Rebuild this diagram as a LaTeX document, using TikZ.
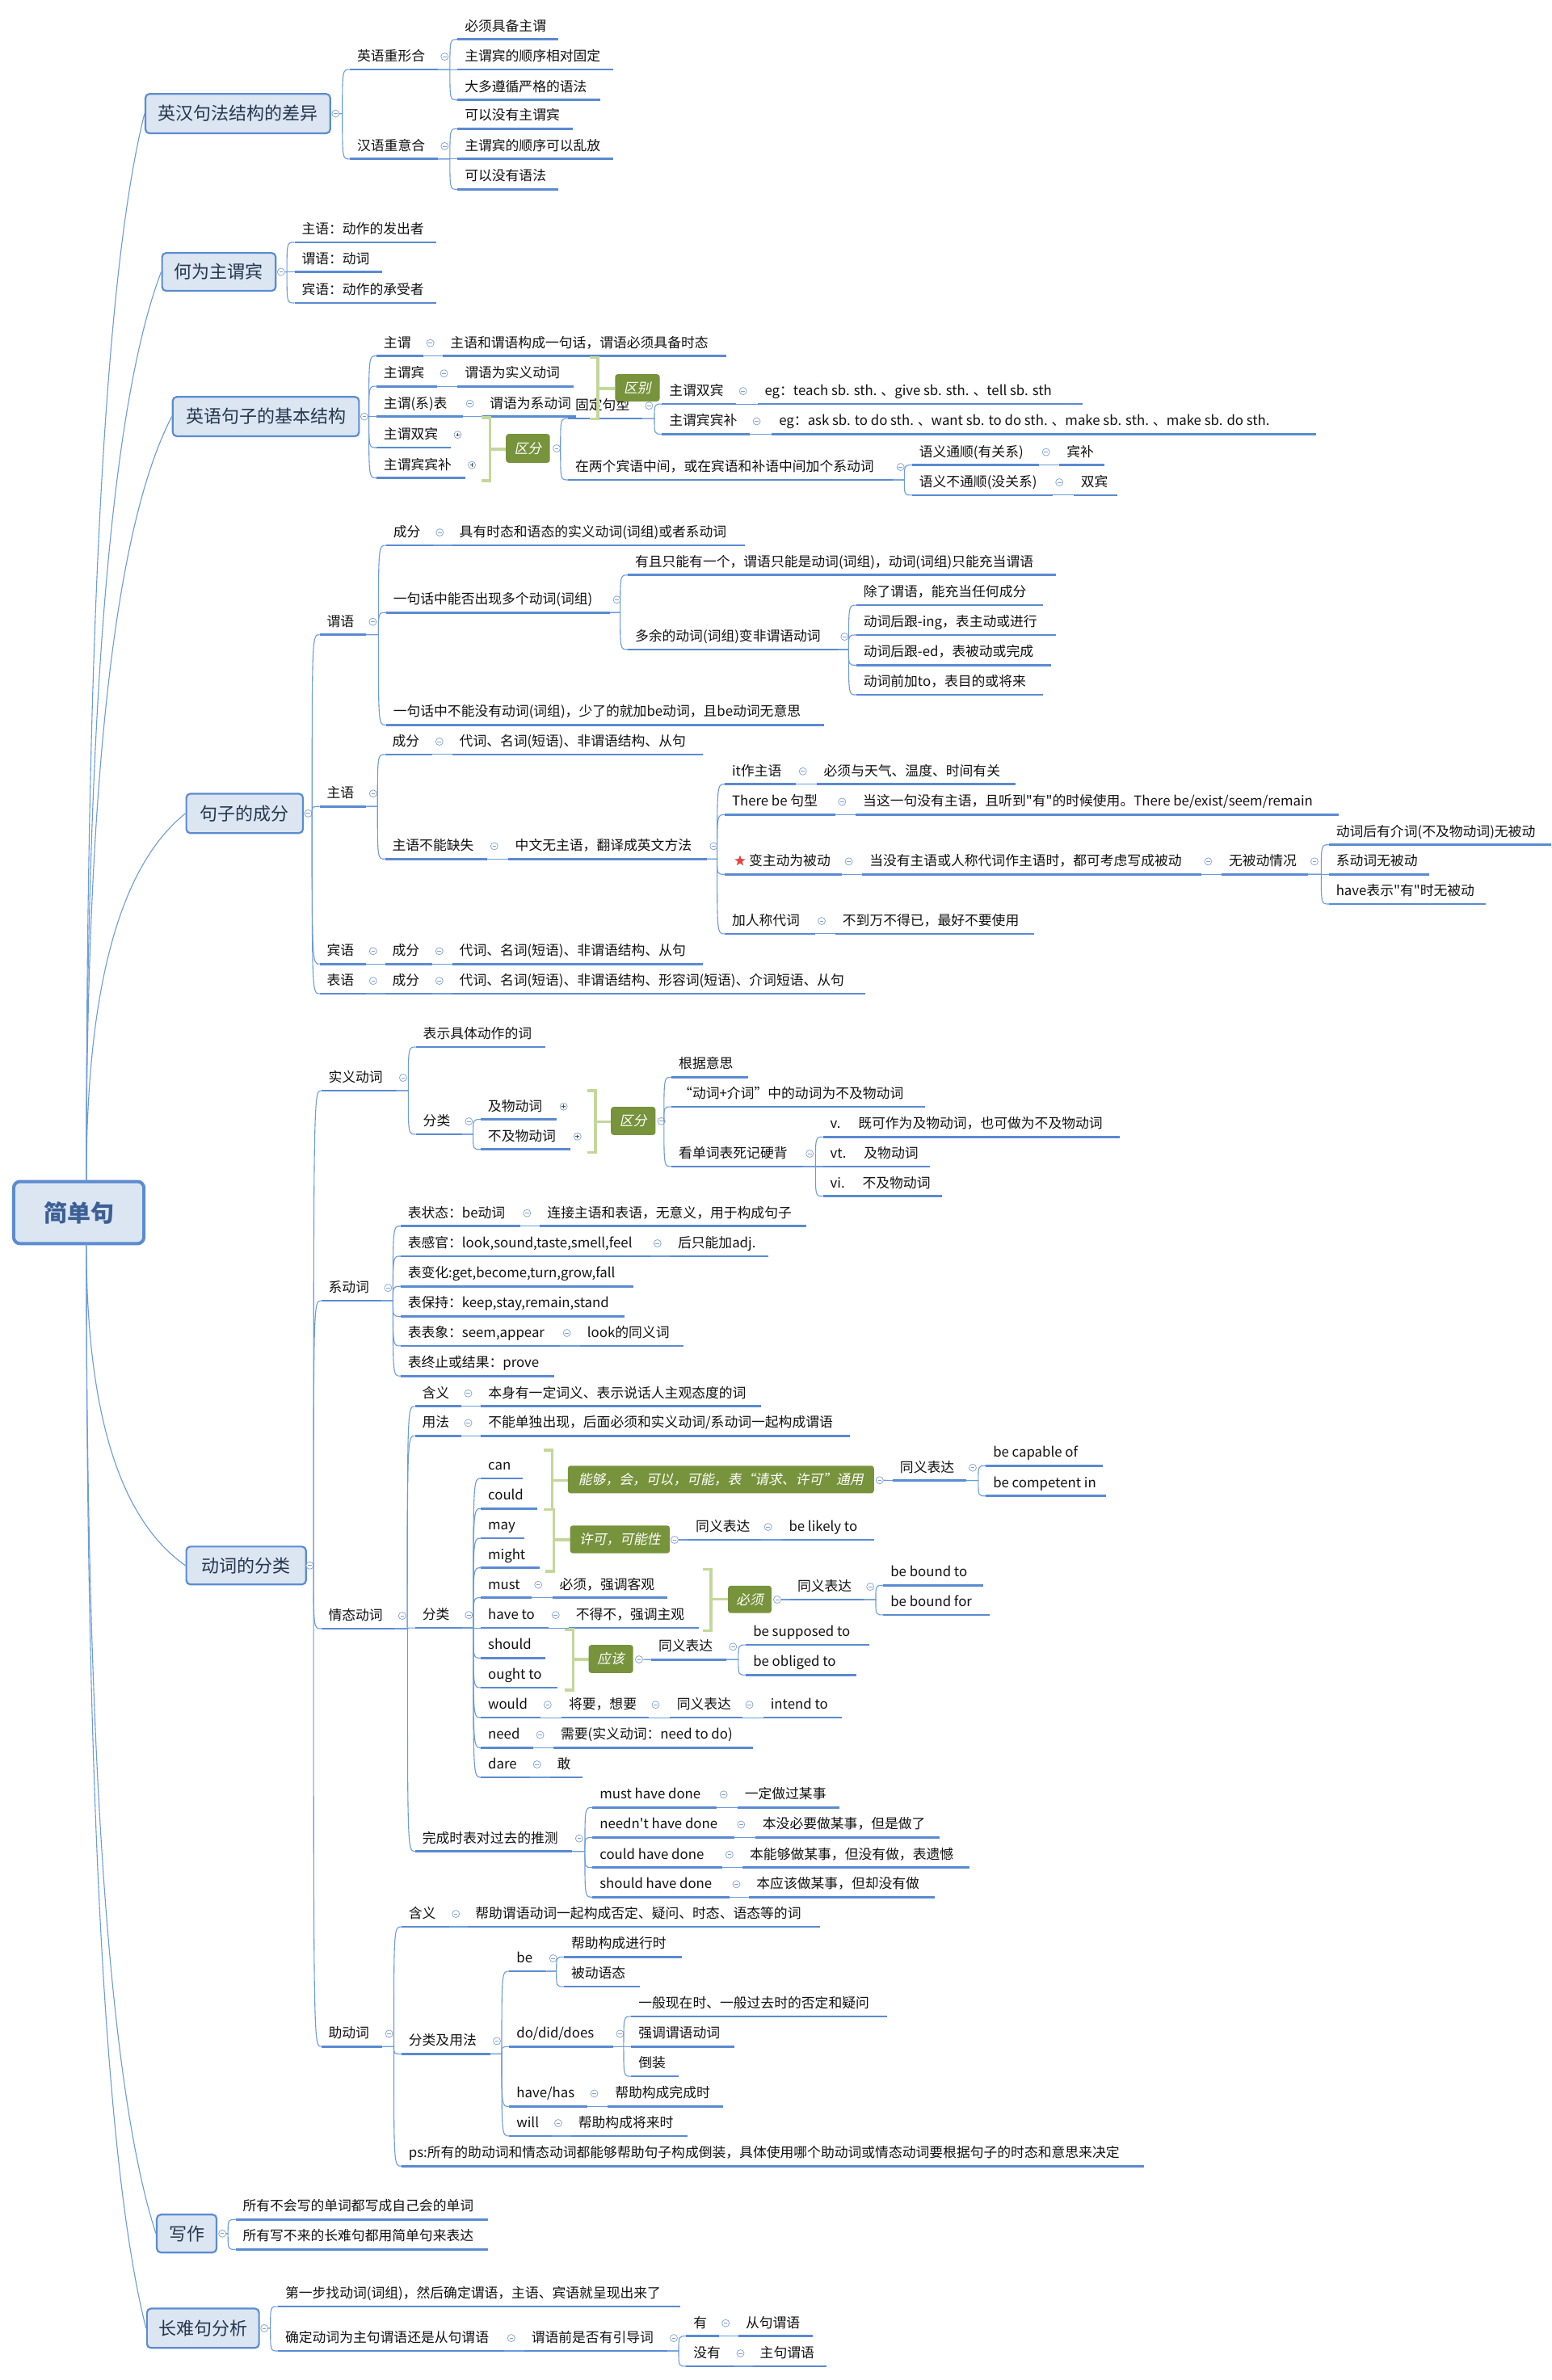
\documentclass[tikz,border=0pt]{standalone}
\usepackage{fontspec}
\setmainfont{Noto Sans CJK SC}[Ligatures=TeXOff]
\newfontfamily\slfont{Noto Sans CJK SC}[FakeSlant=0.2,Ligatures=TeXOff]
\usetikzlibrary{calc,shapes.geometric}
\definecolor{ulc}{HTML}{5A8AD2}
\definecolor{cnc}{HTML}{6B9BDB}
\definecolor{mkc}{HTML}{7E9FD0}
\definecolor{boxf}{HTML}{DCE6F2}
\definecolor{boxc}{HTML}{5B8CD1}
\definecolor{topc}{HTML}{26364F}
\definecolor{rootc}{HTML}{3C6096}
\definecolor{tagf}{HTML}{77933C}
\definecolor{brc}{HTML}{C4D79B}
\definecolor{txtc}{HTML}{111111}
\definecolor{starc}{HTML}{E5443B}
\newcommand\nfont{\fontsize{16.8pt}{19pt}\selectfont}
\newcommand\tfont{\fontsize{22pt}{26pt}\selectfont}
\newcommand\rfont{\fontsize{29pt}{34pt}\selectfont\bfseries}
\newcommand\gfont{\slfont\fontsize{16.8pt}{19pt}\selectfont}
\tikzset{
  ul/.style={draw=ulc, line width=2.8pt},
  cn/.style={draw=cnc, line width=1.1pt},
  txt/.style={anchor=base west, inner sep=0pt, font=\nfont, text=txtc},
  mk/.style={circle, draw=mkc, fill=white, line width=0.7pt, minimum size=9pt, inner sep=0pt,
    path picture={\draw[mkc, line width=0.8pt] ([xshift=-2.3pt]path picture bounding box.center) -- ([xshift=2.3pt]path picture bounding box.center);}},
  mkp/.style={mk, path picture={\draw[black!70, line width=0.8pt] ([xshift=-2.3pt]path picture bounding box.center) -- ([xshift=2.3pt]path picture bounding box.center) ([yshift=-2.3pt]path picture bounding box.center) -- ([yshift=2.3pt]path picture bounding box.center);}},
  topic/.style={draw=boxc, fill=boxf, line width=2.2pt, rounded corners=5pt, text=topc, font=\tfont, inner sep=0pt},
  rootbox/.style={draw=boxc, fill=boxf, line width=4pt, rounded corners=8pt, text=rootc, font=\rfont, inner sep=0pt},
  tag/.style={fill=tagf, rounded corners=3.5pt, text=white, font=\gfont, inner sep=0pt},
  br/.style={draw=brc, line width=3.5pt},
}
% name, x1, x2, y(underline), text
\newcommand\mnd[5]{%
  \coordinate (#1-s) at (#2,#4);
  \coordinate (#1-e) at (#3,#4);
  \draw[ul] (#1-s) -- (#1-e);
  \node[txt] (#1) at (#2+4.7,#4-5.6) {#5};}
\newcommand\mndm[5]{\mnd{#1}{#2}{#3}{#4}{#5}\node[mk] (#1-m) at (#3+4.5,#4-8.5) {};}
\newcommand\mndp[5]{\mnd{#1}{#2}{#3}{#4}{#5}\node[mkp] (#1-m) at (#3+4.5,#4-8.5) {};}
\newcommand\mcx[2]{\draw[cn] (#1) -- ($(#2 |- #1)+(-5,0)$) .. controls ($(#2)+(-5,0)$) .. (#2);}
\newcommand\mbrk[5]{\draw[br] (#1-5.5,#2) -- (#1,#2) -- (#1,#3) -- (#1-5.5,#3); \draw[br] (#1,#4) -- (#5,#4);}
\begin{document}
\begin{tikzpicture}[x=1.875pt,y=-1.875pt]
\fill[white] (0,0) rectangle (1024,1571.2);
\useasboundingbox (0,0) rectangle (1024,1571.2);

% ---------- Section 1
\node[topic, minimum width=228.75pt, minimum height=48.75pt] (b1) at (157,75) {英汉句法结构的差异};
\node[mk] (b1-m) at (221.5,75) {};
\mndm{a1}{231}{289}{45.9}{英语重形合}
\mnd{a11}{302}{368.5}{26}{必须具备主谓}
\mnd{a12}{302}{405}{45.9}{主谓宾的顺序相对固定}
\mnd{a13}{302}{396}{66}{大多遵循严格的语法}
\mndm{a2}{231}{289}{105}{汉语重意合}
\mnd{a21}{302}{378}{85}{可以没有主谓宾}
\mnd{a22}{302}{405}{105}{主谓宾的顺序可以乱放}
\mnd{a23}{302}{368.5}{125}{可以没有语法}
\mcx{b1-m.east}{a1-s}\mcx{b1-m.east}{a2-s}
\mcx{a1-e}{a11-s}\mcx{a1-e}{a12-s}\mcx{a1-e}{a13-s}
\mcx{a2-e}{a21-s}\mcx{a2-e}{a22-s}\mcx{a2-e}{a23-s}

% ---------- Section 2
\node[topic, minimum width=140.6pt, minimum height=46.9pt] (b2) at (144.5,179.5) {何为主谓宾};
\node[mk] (b2-m) at (185.5,179.5) {};
\mnd{c1}{194.4}{288}{160}{主语：动作的发出者}
\mnd{c2}{194.4}{252}{179.5}{谓语：动词}
\mnd{c3}{194.4}{288}{200}{宾语：动作的承受者}
\mcx{b2-m.east}{c1-s}\mcx{b2-m.east}{c2-s}\mcx{b2-m.east}{c3-s}

% ---------- Section 3
\node[topic, minimum width=230.6pt, minimum height=48.75pt] (b3) at (175.5,275) {英语句子的基本结构};
\node[mk] (b3-m) at (240.5,275) {};
\mndm{d1}{248.5}{279.6}{235}{主谓}
\mnd{d1a}{292.5}{479.5}{235}{主语和谓语构成一句话，谓语必须具备时态}
\mndm{d2}{248.5}{288.6}{255}{主谓宾}
\mnd{d2a}{302}{378.7}{255}{谓语为实义动词}
\mndm{d3}{248.5}{305.7}{275}{主谓(系)表}
\mnd{d3a}{318.5}{380}{275}{谓语为系动词}
\mndp{d4}{248.5}{297.6}{295.5}{主谓双宾}
\mndp{d5}{248.5}{307}{315.5}{主谓宾宾补}
\mcx{b3-m.east}{d1-s}\mcx{b3-m.east}{d2-s}\mcx{b3-m.east}{d3-s}\mcx{b3-m.east}{d4-s}\mcx{b3-m.east}{d5-s}
\mcx{d1-e}{d1a-s}\mcx{d2-e}{d2a-s}\mcx{d3-e}{d3a-s}
\mbrk{323.5}{275.8}{317.3}{296.6}{334}
\node[tag, minimum width=54.4pt, minimum height=35.8pt] (g2) at (348.5,296) {区分};
\node[mk] (g2-m) at (367.5,296) {};
\mndm{d6}{375}{424}{276.3}{固定句型}
\mndm{d7}{375}{590}{316.8}{在两个宾语中间，或在宾语和补语中间加个系动词}
\mcx{g2-m.east}{d6-s}\mcx{g2-m.east}{d7-s}
\mbrk{394.7}{236}{276.6}{256.4}{406}
\node[tag, minimum width=55.3pt, minimum height=33.75pt] (g1) at (420.75,256) {区别};
\mndm{d61}{437}{486}{266.7}{主谓双宾}
\mnd{d61a}{500}{714.7}{266.7}{eg：teach sb. sth. 、give sb. sth. 、tell sb. sth}
\mndm{d62}{437}{495}{286.6}{主谓宾宾补}
\mnd{d62a}{509.5}{869}{286.6}{eg：ask sb. to do sth. 、want sb. to do sth. 、make sb. sth. 、make sb. do sth.}
\mndm{d71}{602}{686}{307}{语义通顺(有关系)}
\mnd{d71a}{699.4}{729}{307}{宾补}
\mndm{d72}{602}{694.8}{326.9}{语义不通顺(没关系)}
\mnd{d72a}{708.7}{737.6}{326.9}{双宾}
\mcx{d6-e}{d61-s}\mcx{d6-e}{d62-s}\mcx{d61-e}{d61a-s}\mcx{d62-e}{d62a-s}
\mcx{d7-e}{d71-s}\mcx{d7-e}{d72-s}\mcx{d71-e}{d71a-s}\mcx{d72-e}{d72a-s}

% ---------- Section 4
\node[topic, minimum width=144.4pt, minimum height=48.75pt] (b4) at (161.5,537) {句子的成分};
\node[mk] (b4-m) at (203.5,537) {};
\mndm{e1}{211}{241.6}{419}{谓语}
\mndm{e11}{254.8}{285.8}{360}{成分}
\mnd{e11a}{298.5}{491.5}{360}{具有时态和语态的实义动词(词组)或者系动词}
\mndm{e12}{254.8}{402.7}{404.4}{一句话中能否出现多个动词(词组)}
\mnd{e121}{414.4}{697}{379.6}{有且只能有一个，谓语只能是动词(词组)，动词(词组)只能充当谓语}
\mndm{e122}{414.4}{553}{428.8}{多余的动词(词组)变非谓语动词}
\mnd{e1221}{565.2}{688.3}{399.5}{除了谓语，能充当任何成分}
\mnd{e1222}{565.2}{697}{419.2}{动词后跟-ing，表主动或进行}
\mnd{e1223}{565.2}{694}{439.1}{动词后跟-ed，表被动或完成}
\mnd{e1224}{565.2}{688.3}{458.7}{动词前加to，表目的或将来}
\mnd{e13}{254.8}{543.8}{478.6}{一句话中不能没有动词(词组)，少了的就加be动词，且be动词无意思}
\mndm{e2}{211}{241.8}{532.4}{主语}
\mndm{e21}{254.2}{285.5}{498.1}{成分}
\mnd{e21a}{298.5}{463.9}{498.1}{代词、名词(短语)、非谓语结构、从句}
\mndm{e22}{254.2}{321.8}{567.1}{主语不能缺失}
\mndm{e22a}{335.3}{466.6}{567.1}{中文无主语，翻译成英文方法}
\mndm{e221}{478.4}{525.5}{517.7}{it作主语}
\mnd{e221a}{539}{670.3}{517.7}{必须与天气、温度、时间有关}
\mndm{e222}{478.4}{551.4}{537.8}{There be 句型}
\mnd{e222a}{564.9}{883.7}{537.8}{当这一句没有主语，且听到"有"的时候使用。There be/exist/seem/remain}
\mndm{e223}{478.4}{555.8}{577.2}{\hspace{21pt}变主动为被动}
\node[star, star points=5, star point ratio=2.4, fill=starc, minimum size=14pt, inner sep=0pt] (star) at (488.5,568.3) {};
\mndm{e223a}{569.2}{793}{577.2}{当没有主语或人称代词作主语时，都可考虑写成被动}
\mndm{e223b}{806.4}{863.2}{577.2}{无被动情况}
\mnd{e2231}{877.2}{1024}{557.7}{动词后有介词(不及物动词)无被动}
\mnd{e2232}{877.2}{943.7}{577.2}{系动词无被动}
\mnd{e2233}{877.2}{981}{596.8}{have表示"有"时无被动}
\mndm{e224}{478.4}{537.9}{616.5}{加人称代词}
\mnd{e224a}{551.4}{682.7}{616.5}{不到万不得已，最好不要使用}
\mndm{e3}{211}{241.8}{636.4}{宾语}
\mndm{e31}{254.2}{285.5}{636.4}{成分}
\mnd{e31a}{298.5}{463.9}{636.4}{代词、名词(短语)、非谓语结构、从句}
\mndm{e4}{211}{241.8}{656}{表语}
\mndm{e41}{254.2}{285.5}{656}{成分}
\mnd{e41a}{298.5}{571.4}{656}{代词、名词(短语)、非谓语结构、形容词(短语)、介词短语、从句}
\mcx{b4-m.east}{e1-s}\mcx{b4-m.east}{e2-s}\mcx{b4-m.east}{e3-s}\mcx{b4-m.east}{e4-s}
\mcx{e1-e}{e11-s}\mcx{e1-e}{e12-s}\mcx{e1-e}{e13-s}\mcx{e11-e}{e11a-s}
\mcx{e12-e}{e121-s}\mcx{e12-e}{e122-s}
\mcx{e122-e}{e1221-s}\mcx{e122-e}{e1222-s}\mcx{e122-e}{e1223-s}\mcx{e122-e}{e1224-s}
\mcx{e2-e}{e21-s}\mcx{e2-e}{e22-s}\mcx{e21-e}{e21a-s}\mcx{e22-e}{e22a-s}
\mcx{e22a-e}{e221-s}\mcx{e22a-e}{e222-s}\mcx{e22a-e}{e223-s}\mcx{e22a-e}{e224-s}
\mcx{e221-e}{e221a-s}\mcx{e222-e}{e222a-s}\mcx{e223-e}{e223a-s}\mcx{e223a-e}{e223b-s}
\mcx{e223b-e}{e2231-s}\mcx{e223b-e}{e2232-s}\mcx{e223b-e}{e2233-s}\mcx{e224-e}{e224a-s}
\mcx{e3-e}{e31-s}\mcx{e31-e}{e31a-s}\mcx{e4-e}{e41-s}\mcx{e41-e}{e41a-s}

% ---------- Section 5
\node[topic, minimum width=148.1pt, minimum height=46.9pt] (b5) at (162.5,1033.5) {动词的分类};
\node[mk] (b5-m) at (204.5,1033.5) {};
% 实义动词
\mndm{f1}{212}{261.6}{720}{实义动词}
\mnd{f11}{274.5}{360}{691.2}{表示具体动作的词}
\mndm{f12}{274.5}{305}{748.8}{分类}
\mndp{f121}{317.3}{367.6}{739}{及物动词}
\mndp{f122}{317.3}{376.7}{758.8}{不及物动词}
\mbrk{393}{720}{760.9}{740.4}{403.2}
\node[tag, minimum width=55.3pt, minimum height=34.9pt] (g3) at (418,740) {区分};
\node[mk] (g3-m) at (436.5,740.2) {};
\mnd{f13}{443.3}{494}{711.1}{根据意思}
\mnd{f14}{443.3}{610.7}{730.7}{“动词+介词”中的动词为不及物动词}
\mndm{f15}{443.3}{530}{770.1}{看单词表死记硬背}
\mnd{f151}{543.3}{739.3}{750.6}{v.\hspace{1.3em}既可作为及物动词，也可做为不及物动词}
\mnd{f152}{543.3}{613.7}{770.1}{vt.\hspace{1.3em}及物动词}
\mnd{f153}{543.3}{622}{789.7}{vi.\hspace{1.3em}不及物动词}
\mcx{f1-e}{f11-s}\mcx{f1-e}{f12-s}\mcx{f12-e}{f121-s}\mcx{f12-e}{f122-s}
\mcx{g3-m.east}{f13-s}\mcx{g3-m.east}{f14-s}\mcx{g3-m.east}{f15-s}
\mcx{f15-e}{f151-s}\mcx{f15-e}{f152-s}\mcx{f15-e}{f153-s}
% 系动词
\mndm{f2}{212}{251.7}{858.7}{系动词}
\mndm{f21}{264.4}{343.4}{809.4}{表状态：be动词}
\mnd{f21a}{356.5}{532.4}{809.4}{连接主语和表语，无意义，用于构成句子}
\mndm{f22}{264.4}{429.5}{829.3}{表感官：look,sound,taste,smell,feel}
\mnd{f22a}{442.7}{507.3}{829.3}{后只能加adj.}
\mnd{f23}{264.4}{418.3}{849.2}{表变化:get,become,turn,grow,fall}
\mnd{f24}{264.4}{412.3}{869}{表保持：keep,stay,remain,stand}
\mndm{f25}{264.4}{369.7}{888.5}{表表象：seem,appear}
\mnd{f25a}{382.9}{451}{888.5}{look的同义词}
\mnd{f26}{264.4}{366.1}{908.4}{表终止或结果：prove}
\mcx{f2-e}{f21-s}\mcx{f2-e}{f22-s}\mcx{f2-e}{f23-s}\mcx{f2-e}{f24-s}\mcx{f2-e}{f25-s}\mcx{f2-e}{f26-s}
\mcx{f21-e}{f21a-s}\mcx{f22-e}{f22a-s}\mcx{f25-e}{f25a-s}
% 情态动词
\mndm{f3}{212}{261}{1075.2}{情态动词}
\mndm{f31}{273.9}{304.6}{928.4}{含义}
\mnd{f31a}{317.5}{502.5}{928.4}{本身有一定词义、表示说话人主观态度的词}
\mndm{f32}{273.9}{304.6}{947.9}{用法}
\mnd{f32a}{317.5}{561}{947.9}{不能单独出现，后面必须和实义动词/系动词一起构成谓语}
\mndm{f33}{274}{305}{1074.7}{分类}
\mnd{m1}{317.4}{345.2}{976}{can}
\mnd{m2}{317.4}{354.5}{995.9}{could}
\mnd{m3}{317.4}{346}{1015.5}{may}
\mnd{m4}{317.4}{356}{1035}{might}
\mndm{m5}{317.4}{350.8}{1054.7}{must}
\mnd{m5a}{364.6}{440.6}{1054.7}{必须，强调客观}
\mndm{m6}{317.4}{362.3}{1074.7}{have to}
\mnd{m6a}{375.4}{461.4}{1074.7}{不得不，强调主观}
\mnd{m7}{317.4}{360.2}{1094.6}{should}
\mnd{m8}{317.4}{367.9}{1114.1}{ought to}
\mndm{m9}{317.4}{357}{1133.9}{would}
\mndm{m9a}{370.7}{428.3}{1133.9}{将要，想要}
\mndm{m9b}{442}{490.2}{1133.9}{同义表达}
\mnd{m9c}{503.9}{555.9}{1133.9}{intend to}
\mndm{m10}{317.4}{352.1}{1153.8}{need}
\mnd{m10a}{365.4}{497.1}{1153.8}{需要(实义动词：need to do)}
\mndm{m11}{317.4}{350}{1173.3}{dare}
\mnd{m11a}{363}{384.6}{1173.3}{敢}
\mbrk{364.6}{957.3}{996.4}{977.4}{374.8}
\node[tag, minimum width=379pt, minimum height=34.1pt] (g4) at (475.9,976.7) {能够，会，可以，可能，表“请求、许可”通用};
\node[mk] (g4-m) at (580.7,977.2) {};
\mndm{m12}{589.3}{637.6}{977.4}{同义表达}
\mnd{m121}{650.8}{728}{967.6}{be capable of}
\mnd{m122}{650.8}{730}{987.6}{be competent in}
\mbrk{365.5}{996.4}{1037.3}{1016.5}{376.3}
\node[tag, minimum width=123.6pt, minimum height=34.3pt] (g5) at (409.25,1016.25) {许可，可能性};
\node[mk] (g5-m) at (445.3,1016.5) {};
\mndm{m13}{454.5}{502.5}{1016.5}{同义表达}
\mnd{m131}{516}{577}{1016.5}{be likely to}
\mbrk{469.3}{1036}{1076.4}{1055.6}{480.6}
\node[tag, minimum width=53.8pt, minimum height=33.9pt] (g6) at (494.95,1055.85) {必须};
\node[mk] (g6-m) at (513,1056) {};
\mndm{m14}{521.6}{570}{1056}{同义表达}
\mnd{m141}{583.1}{649.3}{1046.6}{be bound to}
\mnd{m142}{583.1}{653.3}{1066.1}{be bound for}
\mbrk{378.5}{1075.6}{1115.6}{1095.5}{388.6}
\node[tag, minimum width=55.1pt, minimum height=34.9pt] (g7) at (403.3,1095.2) {应该};
\node[mk] (g7-m) at (421.8,1095.5) {};
\mndm{m15}{429.9}{479.4}{1095.6}{同义表达}
\mnd{m151}{492.4}{573.6}{1085.9}{be supposed to}
\mnd{m152}{492.4}{565.2}{1105.8}{be obliged to}
\mndm{f34}{274}{377.8}{1222.2}{完成时表对过去的推测}
\mndm{n1}{391.1}{473.2}{1193.2}{must have done}
\mnd{n1a}{486.8}{554.3}{1193.2}{一定做过某事}
\mndm{n2}{391.1}{484.7}{1213}{needn't have done}
\mnd{n2a}{498.6}{620.3}{1213}{本没必要做某事，但是做了}
\mndm{n3}{391.1}{477}{1232.9}{could have done}
\mnd{n3a}{490.2}{640.2}{1232.9}{本能够做某事，但没有做，表遗憾}
\mndm{n4}{391.1}{481.6}{1252.4}{should have done}
\mnd{n4a}{494.6}{617.2}{1252.4}{本应该做某事，但却没有做}
\mcx{f3-e}{f31-s}\mcx{f3-e}{f32-s}\mcx{f3-e}{f33-s}\mcx{f3-e}{f34-s}
\mcx{f31-e}{f31a-s}\mcx{f32-e}{f32a-s}
\mcx{f33-e}{m1-s}\mcx{f33-e}{m2-s}\mcx{f33-e}{m3-s}\mcx{f33-e}{m4-s}\mcx{f33-e}{m5-s}\mcx{f33-e}{m6-s}
\mcx{f33-e}{m7-s}\mcx{f33-e}{m8-s}\mcx{f33-e}{m9-s}\mcx{f33-e}{m10-s}\mcx{f33-e}{m11-s}
\mcx{m5-e}{m5a-s}\mcx{m6-e}{m6a-s}\mcx{m9-e}{m9a-s}\mcx{m9a-e}{m9b-s}\mcx{m9b-e}{m9c-s}
\mcx{m10-e}{m10a-s}\mcx{m11-e}{m11a-s}
\mcx{g4-m.east}{m12-s}\mcx{m12-e}{m121-s}\mcx{m12-e}{m122-s}
\mcx{g5-m.east}{m13-s}\mcx{m13-e}{m131-s}
\mcx{g6-m.east}{m14-s}\mcx{m14-e}{m141-s}\mcx{m14-e}{m142-s}
\mcx{g7-m.east}{m15-s}\mcx{m15-e}{m151-s}\mcx{m15-e}{m152-s}
\mcx{f34-e}{n1-s}\mcx{f34-e}{n2-s}\mcx{f34-e}{n3-s}\mcx{f34-e}{n4-s}
\mcx{n1-e}{n1a-s}\mcx{n2-e}{n2a-s}\mcx{n3-e}{n3a-s}\mcx{n4-e}{n4a-s}
% 助动词
\mndm{f4}{212}{252.4}{1351.1}{助动词}
\mndm{f41}{265}{296.4}{1272}{含义}
\mnd{f41a}{309}{541.4}{1272}{帮助谓语动词一起构成否定、疑问、时态、语态等的词}
\mndm{f42}{265}{323.5}{1355.9}{分类及用法}
\mndm{p1}{336.2}{360.7}{1301.3}{be}
\mnd{p11}{372.3}{450}{1291.9}{帮助构成进行时}
\mnd{p12}{372.3}{422.2}{1311.5}{被动语态}
\mndm{p2}{336.2}{404.8}{1351.1}{do/did/does}
\mnd{p21}{416.7}{585.5}{1331.2}{一般现在时、一般过去时的否定和疑问}
\mnd{p22}{416.7}{485}{1351.1}{强调谓语动词}
\mnd{p23}{416.7}{448.2}{1370.7}{倒装}
\mndm{p3}{336.2}{387.8}{1390.6}{have/has}
\mnd{p3a}{401.2}{477.1}{1390.6}{帮助构成完成时}
\mndm{p4}{336.2}{364}{1410.1}{will}
\mnd{p4a}{377}{453.6}{1410.1}{帮助构成将来时}
\mnd{f43}{265}{755}{1430}{ps:所有的助动词和情态动词都能够帮助句子构成倒装，具体使用哪个助动词或情态动词要根据句子的时态和意思来决定}
\mcx{f4-e}{f41-s}\mcx{f4-e}{f42-s}\mcx{f4-e}{f43-s}\mcx{f41-e}{f41a-s}
\mcx{f42-e}{p1-s}\mcx{f42-e}{p2-s}\mcx{f42-e}{p3-s}\mcx{f42-e}{p4-s}
\mcx{p1-e}{p11-s}\mcx{p1-e}{p12-s}\mcx{p2-e}{p21-s}\mcx{p2-e}{p22-s}\mcx{p2-e}{p23-s}
\mcx{p3-e}{p3a-s}\mcx{p4-e}{p4a-s}
\mcx{b5-m.east}{f1-s}\mcx{b5-m.east}{f2-s}\mcx{b5-m.east}{f3-s}\mcx{b5-m.east}{f4-s}

% ---------- 写作
\node[topic, minimum width=74pt, minimum height=46.9pt] (b6) at (123.25,1474.5) {写作};
\node[mk] (b6-m) at (146.75,1474.5) {};
\mnd{w1}{155.5}{322.3}{1465.2}{所有不会写的单词都写成自己会的单词}
\mnd{w2}{155.5}{322.3}{1485}{所有写不来的长难句都用简单句来表达}
\mcx{b6-m.east}{w1-s}\mcx{b6-m.east}{w2-s}

% ---------- 长难句分析
\node[topic, minimum width=138.75pt, minimum height=48.75pt] (b7) at (134,1537) {长难句分析};
\node[mk] (b7-m) at (174.5,1537) {};
\mnd{x1}{183.5}{449}{1522.7}{第一步找动词(词组)，然后确定谓语，主语、宾语就呈现出来了}
\mndm{x2}{183.5}{333}{1552}{确定动词为主句谓语还是从句谓语}
\mndm{x2a}{346}{440.3}{1552}{谓语前是否有引导词}
\mndm{x21}{453}{474.5}{1542.2}{有}
\mnd{x21a}{487.5}{536.3}{1542.2}{从句谓语}
\mndm{x22}{453}{484.3}{1562.1}{没有}
\mnd{x22a}{496.9}{545.7}{1562.1}{主句谓语}
\mcx{b7-m.east}{x1-s}\mcx{b7-m.east}{x2-s}\mcx{x2-e}{x2a-s}
\mcx{x2a-e}{x21-s}\mcx{x2a-e}{x22-s}\mcx{x21-e}{x21a-s}\mcx{x22-e}{x22a-s}

% ---------- Root
\node[rootbox, minimum width=161.25pt, minimum height=76.9pt] (r) at (52,800.5) {简单句};
\coordinate (r-t) at (57,780);
\coordinate (r-b) at (57,821);
\draw[cn] (r-t) .. controls (57,427.5) and (68.7,180.75) .. (b1.west);
\draw[cn] (r-t) .. controls (57,479.75) and (72,269.6) .. (b2.west);
\draw[cn] (r-t) .. controls (57,527.5) and (74.1,350.75) .. (b3.west);
\draw[cn] (r-t) .. controls (57,658.5) and (76.8,573.5) .. (b4.west);
\draw[cn] (r-b) .. controls (57,927) and (76.8,1001.6) .. (b5.west);
\draw[cn] (r-b) .. controls (57,1147.8) and (71,1376.5) .. (b6.west);
\draw[cn] (r-b) .. controls (57,1179) and (69,1429.6) .. (b7.west);
\end{tikzpicture}
\end{document}
